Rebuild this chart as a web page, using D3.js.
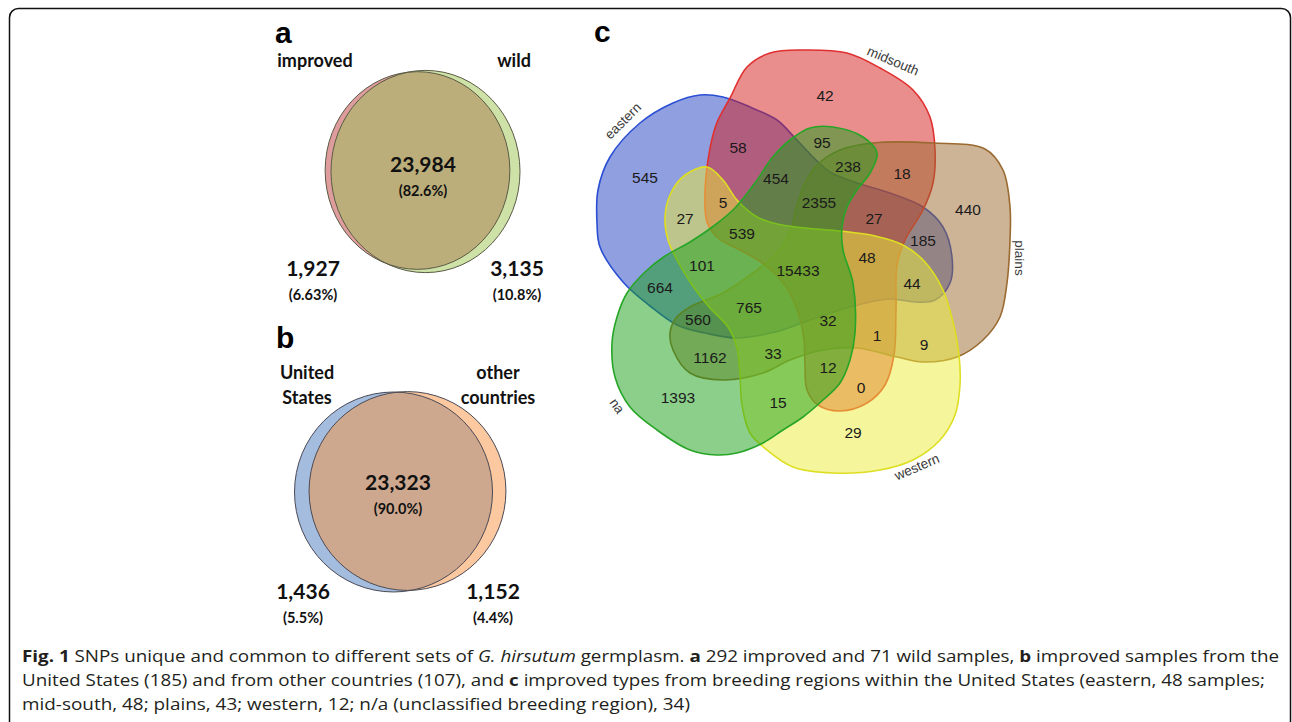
<!DOCTYPE html>
<html>
<head>
<meta charset="utf-8">
<script src="https://cdn.jsdelivr.net/npm/d3@7"></script>
<style>
  body { margin: 0; background: #fff; }
  svg { display: block; }
</style>
</head>
<body>
<div id="chart"></div>
<script>
// ---- panel a : improved vs wild
const setsA = ["improved", "wild"];
const onlyA = [1927, 3135];
const pctOnlyA = ["(6.63%)", "(10.8%)"];
const sharedA = 23984;
const pctSharedA = "(82.6%)";

// ---- panel b : United States vs other countries
const setsB = [["United", "States"], ["other", "countries"]];
const onlyB = [1436, 1152];
const pctOnlyB = ["(5.5%)", "(4.4%)"];
const sharedB = 23323;
const pctSharedB = "(90.0%)";

// ---- panel c : breeding regions
const regions5 = ["eastern", "midsouth", "plains", "western", "na"];
const counts5 = [545, 42, 440, 29, 1393, 58, 95, 238, 18, 454, 5, 27, 2355, 27, 539,
  185, 101, 15433, 48, 44, 664, 765, 560, 32, 1, 9, 1162, 33, 12, 0, 15];

// layout (positions only)
const countPos5 = [[645,177],[825,95],[968,209],[853,432],[678,397],[738,147],[822,142],
  [848,166],[902,173],[776,178],[723,202],[685,218],[819,202],[874,218],[742,233],
  [923,240],[702,265],[798,270],[867,257],[912,283],[660,287],[749,307],[698,319],
  [828,320],[877,335],[924,344],[710,357],[773,353],[828,367],[861,387],[778,402]];
const regionLabelPos = [[623,121,-45],[893,61,23],[1019,258,90],[917,467,-23],[617,406,55]];
const regionFill = ["#1f3fbf", "#d41c1c", "#9b6a2d", "#ecec3a", "#17a017"];
const regionStroke = ["#2b4fd4", "#e03030", "#9a6a30", "#dede22", "#27a527"];
// blob outlines of the 5-set diagram
const outlines = {
  eastern: [[600,247],[597,223],[598,190],[610,157],[640,123],[673,103],[700,95],[723,97],
    [750,107],[777,120],[795,138],[812,156],[830,172],[857,183],[890,193],[923,207],[943,227],
    [952,257],[950,283],[935,300],[915,302],[890,299],[850,307],[810,320],[775,332],[737,338],
    [705,333],[677,325],[650,306],[623,282]],
  midsouth: [[730,98],[747,67],[770,53],[803,50],[847,53],[880,68],[913,90],[930,117],[935,150],
    [933,183],[923,210],[905,240],[897,265],[896,310],[894,355],[885,385],[867,403],[840,411],
    [818,405],[807,390],[805,365],[804,340],[798,312],[785,285],[765,265],[740,250],[718,238],
    [707,222],[705,195],[708,160],[716,125]],
  plains: [[873,143],[933,143],[985,149],[1003,170],[1010,207],[1010,240],[1007,283],[1000,317],
    [983,340],[957,357],[923,362],[897,357],[857,348],[823,350],[790,360],[763,373],[723,380],
    [690,373],[673,350],[670,333],[676,318],[690,307],[723,293],[750,275],[775,255],[790,232],
    [797,205],[805,183],[817,165],[840,150]],
  western: [[707,167],[723,180],[737,200],[757,217],[777,224],[805,228],[840,231],[875,236],
    [903,245],[925,262],[943,290],[953,322],[959,355],[960,385],[955,415],[940,440],[913,460],
    [880,470],[833,473],[793,467],[767,450],[750,433],[742,405],[740,375],[737,348],[728,327],
    [710,308],[692,285],[677,260],[668,240],[665,218],[670,195],[685,175]],
  na: [[790,140],[810,128],[833,127],[863,137],[877,153],[870,173],[857,190],[847,207],[842,227],
    [843,250],[853,283],[855,333],[850,360],[840,383],[823,400],[803,417],[783,430],[763,443],
    [737,453],[717,455],[690,450],[657,430],[630,407],[615,377],[612,343],[617,317],[627,293],
    [645,272],[665,256],[690,242],[715,225],[735,208],[755,183],[772,158]]
};

const W = 1292, H = 722;
const svg = d3.select("#chart").append("svg").attr("width", W).attr("height", H);
svg.append("rect").attr("width", W).attr("height", H).attr("fill", "#fff");

// frame
svg.append("rect")
  .attr("x", 9.5).attr("y", 8.5).attr("width", 1281).attr("height", 740)
  .attr("rx", 9).attr("fill", "none").attr("stroke", "#111").attr("stroke-width", 1.5);

const fmt = d3.format(",");
const labFont = "Lato, 'Open Sans', sans-serif";

function twoVenn(g, opts) {
  const r = d3.scaleSqrt().domain([0, opts.maxTotal]).range([0, opts.maxR]);
  const totals = opts.only.map(v => v + opts.shared);
  const defs = g.append("defs");
  defs.append("clipPath").attr("id", opts.id + "clip")
    .append("ellipse")
    .attr("cx", opts.cx[1]).attr("cy", opts.cy[1])
    .attr("rx", r(totals[1])).attr("ry", r(totals[1]) * opts.sy);

  totals.forEach((t, i) => {
    g.append("ellipse")
      .attr("cx", opts.cx[i]).attr("cy", opts.cy[i])
      .attr("rx", r(t)).attr("ry", r(t) * opts.sy)
      .attr("fill", opts.colors[i]);
  });
  g.append("ellipse")
    .attr("clip-path", `url(#${opts.id}clip)`)
    .attr("cx", opts.cx[0]).attr("cy", opts.cy[0])
    .attr("rx", r(totals[0])).attr("ry", r(totals[0]) * opts.sy)
    .attr("fill", opts.colors[2]);
  totals.forEach((t, i) => {
    g.append("ellipse")
      .attr("cx", opts.cx[i]).attr("cy", opts.cy[i])
      .attr("rx", r(t)).attr("ry", r(t) * opts.sy)
      .attr("fill", "none").attr("stroke", opts.stroke).attr("stroke-width", 1);
  });

  const txt = (x, y, s, size) => g.append("text")
    .attr("x", x).attr("y", y).attr("text-anchor", "middle")
    .attr("font-family", labFont).attr("font-weight", 700)
    .attr("font-size", size).attr("fill", "#111").text(s);

  txt(opts.mid[0], opts.mid[1], fmt(opts.shared), 21);
  txt(opts.mid[0], opts.mid[1] + 24, opts.pctShared, 14.5);
  opts.only.forEach((v, i) => {
    txt(opts.side[i][0], opts.side[i][1], fmt(v), 21);
    txt(opts.side[i][0], opts.side[i][1] + 24, opts.pctOnly[i], 14.5);
  });
  opts.names.forEach((n, i) => {
    [].concat(n).forEach((line, j) => {
      txt(opts.nameAt[i][0], opts.nameAt[i][1] + j * 25, line, 18);
    });
  });
}

const gA = svg.append("g");
gA.append("text").attr("x", 275).attr("y", 43).attr("font-family", "Arial, sans-serif")
  .attr("font-weight", 700).attr("font-size", 30).text("a");
twoVenn(gA, {
  id: "a", only: onlyA, shared: sharedA, pctOnly: pctOnlyA, pctShared: pctSharedA,
  names: setsA, maxTotal: 27119, maxR: 94.5, sy: 1.07,
  cx: [417.5, 425.5], cy: [170.5, 171.5],
  colors: ["#de9c9c", "#cee2a8", "#bcae7a"], stroke: "#5a5a45",
  mid: [423, 172], side: [[313, 276], [517, 276]], nameAt: [[315, 67], [514, 67]]
});

const gB = svg.append("g");
gB.append("text").attr("x", 276).attr("y", 348).attr("font-family", "Arial, sans-serif")
  .attr("font-weight", 700).attr("font-size", 30).text("b");
twoVenn(gB, {
  id: "b", only: onlyB, shared: sharedB, pctOnly: pctOnlyB, pctShared: pctSharedB,
  names: setsB, maxTotal: 24759, maxR: 99, sy: 1.01,
  cx: [393.5, 407.5], cy: [492, 491],
  colors: ["#a4bcde", "#fbc8a0", "#cea88e"], stroke: "#4a4a55",
  mid: [398, 490], side: [[303, 599], [493, 599]], nameAt: [[307, 379], [498, 379]]
});

// ---- panel c
const gC = svg.append("g");
gC.append("text").attr("x", 594).attr("y", 42).attr("font-family", "Arial, sans-serif")
  .attr("font-weight", 700).attr("font-size", 30).text("c");

const line = d3.line().curve(d3.curveCatmullRomClosed.alpha(0.5));

gC.selectAll("path.blob")
  .data(regions5)
  .join("path")
  .attr("class", "blob")
  .attr("d", d => line(outlines[d]))
  .attr("fill", (d, i) => regionFill[i])
  .attr("fill-opacity", 0.5)
  .attr("stroke", (d, i) => regionStroke[i])
  .attr("stroke-width", 1.6);

gC.selectAll("text.count")
  .data(counts5)
  .join("text")
  .attr("class", "count")
  .attr("x", (d, i) => countPos5[i][0])
  .attr("y", (d, i) => countPos5[i][1])
  .attr("text-anchor", "middle")
  .attr("dominant-baseline", "central")
  .attr("font-family", "Arial, 'Liberation Sans', sans-serif")
  .attr("font-size", 15.5)
  .attr("fill", "#1a1a1a")
  .text(d => d);

gC.selectAll("text.setname")
  .data(regions5)
  .join("text")
  .attr("class", "setname")
  .attr("transform", (d, i) => `translate(${regionLabelPos[i][0]},${regionLabelPos[i][1]}) rotate(${regionLabelPos[i][2]})`)
  .attr("text-anchor", "middle")
  .attr("dominant-baseline", "central")
  .attr("font-family", "Arial, 'Liberation Sans', sans-serif")
  .attr("font-size", 13.5)
  .attr("fill", "#3a3a3a")
  .text(d => d);

// ---- caption
const caption = [
  { y: 662, len: 1257, parts: [["Fig. 1", "b"], [" SNPs unique and common to different sets of ", ""], ["G. hirsutum", "i"],
    [" germplasm. ", ""], ["a", "b"], [" 292 improved and 71 wild samples, ", ""], ["b", "b"], [" improved samples from the", ""]] },
  { y: 686, len: 1243, parts: [["United States (185) and from other countries (107), and ", ""], ["c", "b"],
    [" improved types from breeding regions within the United States (eastern, 48 samples;", ""]] },
  { y: 710, len: 668, parts: [["mid-south, 48; plains, 43; western, 12; n/a (unclassified breeding region), 34)", ""]] }
];
const capG = svg.append("g");
caption.forEach(c => {
  const t = capG.append("text")
    .attr("x", 22).attr("y", c.y)
    .attr("font-family", "'Open Sans', sans-serif")
    .attr("font-size", 16.5)
    .attr("fill", "#231f20")
    .attr("textLength", c.len)
    .attr("lengthAdjust", "spacingAndGlyphs");
  c.parts.forEach(([s, st]) => {
    t.append("tspan")
      .attr("font-weight", st === "b" ? 700 : 400)
      .attr("font-style", st === "i" ? "italic" : "normal")
      .text(s);
  });
});
</script>
</body>
</html>
